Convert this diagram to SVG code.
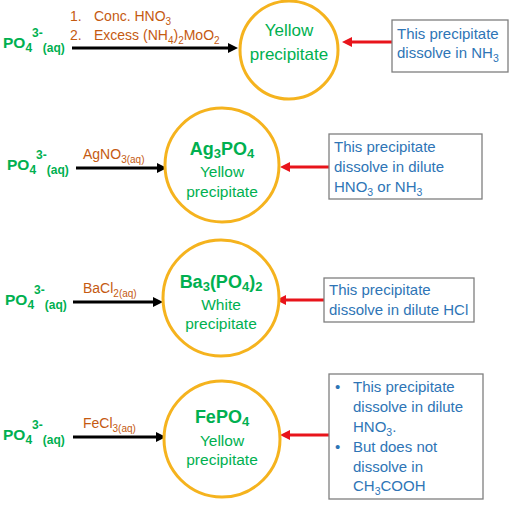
<svg xmlns="http://www.w3.org/2000/svg" width="517" height="505" viewBox="0 0 517 505">
<defs>
<marker id="ahBlack" markerUnits="userSpaceOnUse" markerWidth="12" markerHeight="12" refX="1" refY="5" orient="auto"><path d="M0,0 L10,5 L0,10 Z" fill="#000"/></marker>
<marker id="ahRed" markerUnits="userSpaceOnUse" markerWidth="12" markerHeight="12" refX="1" refY="5" orient="auto"><path d="M0,0 L10,5 L0,10 Z" fill="#E8141B"/></marker>
</defs>
<style>
text{font-family:"Liberation Sans",Arial,sans-serif}
.ion{fill:#00B050;font-weight:bold;font-size:15.5px}
.ion .s{font-size:12px}
.reag{fill:#C55A11;font-size:14px}
.reag .s{font-size:10px}
.node circle{fill:#fff;stroke:#F5B31E;stroke-width:3}
.ct{fill:#00B050;font-size:15.5px;text-anchor:middle}
.cf{fill:#00B050;font-size:18px;font-weight:bold;text-anchor:middle}
.cf .s{font-size:13px}
.box rect{fill:#fff;stroke:#7F7F7F;stroke-width:1.3}
.bt{fill:#2E75B6;font-size:15px}
.bt .s{font-size:10.5px}
.blk{stroke:#000;stroke-width:3;marker-end:url(#ahBlack)}
.red{stroke:#E8141B;stroke-width:3;marker-end:url(#ahRed)}
</style>
<rect width="517" height="505" fill="#fff"/>

<g id="connectors">
<line class="blk" x1="72" y1="48" x2="229" y2="48"/>
<line class="blk" x1="76" y1="168" x2="158" y2="168"/>
<line class="blk" x1="73" y1="302" x2="154" y2="302"/>
<line class="blk" x1="73" y1="437" x2="157" y2="437"/>
<line class="red" x1="392" y1="42" x2="351" y2="42"/>
<line class="red" x1="329" y1="167" x2="289" y2="167"/>
<line class="red" x1="324" y1="300" x2="285" y2="300"/>
<line class="red" x1="329" y1="435" x2="289" y2="435"/>
</g>

<g id="ion1"><text class="ion" x="3" y="48">PO<tspan class="s" dy="4">4</tspan><tspan class="s" dy="-15">3-</tspan><tspan class="s" dy="15">(aq)</tspan></text></g>
<g id="ion2"><text class="ion" x="7" y="170">PO<tspan class="s" dy="4">4</tspan><tspan class="s" dy="-15">3-</tspan><tspan class="s" dy="15">(aq)</tspan></text></g>
<g id="ion3"><text class="ion" x="5" y="305">PO<tspan class="s" dy="4">4</tspan><tspan class="s" dy="-15">3-</tspan><tspan class="s" dy="15">(aq)</tspan></text></g>
<g id="ion4"><text class="ion" x="3" y="440">PO<tspan class="s" dy="4">4</tspan><tspan class="s" dy="-15">3-</tspan><tspan class="s" dy="15">(aq)</tspan></text></g>

<g id="reagent1">
<text class="reag" x="70" y="21">1.</text>
<text class="reag" x="94" y="21">Conc. HNO<tspan class="s" dy="4">3</tspan></text>
<text class="reag" x="70" y="40">2.</text>
<text class="reag" x="94" y="40">Excess (NH<tspan class="s" dy="4">4</tspan><tspan dy="-4">)</tspan><tspan class="s" dy="4">2</tspan><tspan dy="-4">MoO</tspan><tspan class="s" dy="4">2</tspan></text>
</g>
<g id="reagent2"><text class="reag" x="83" y="159">AgNO<tspan class="s" dy="4">3(aq)</tspan></text></g>
<g id="reagent3"><text class="reag" x="83" y="293">BaCl<tspan class="s" dy="4">2(aq)</tspan></text></g>
<g id="reagent4"><text class="reag" x="83" y="428">FeCl<tspan class="s" dy="4">3(aq)</tspan></text></g>

<g id="precip1" class="node">
<circle cx="289" cy="50" r="49"/>
<text class="ct" x="289" y="36" style="font-size:17px">Yellow</text>
<text class="ct" x="289" y="60" style="font-size:17px">precipitate</text>
</g>
<g id="precip2" class="node">
<circle cx="222" cy="165" r="57"/>
<text class="cf" x="222" y="155">Ag<tspan class="s" dy="3">3</tspan><tspan dy="-3">PO</tspan><tspan class="s" dy="3">4</tspan></text>
<text class="ct" x="222" y="177">Yellow</text>
<text class="ct" x="222" y="197">precipitate</text>
</g>
<g id="precip3" class="node">
<circle cx="221" cy="298" r="58"/>
<text class="cf" x="221" y="288">Ba<tspan class="s" dy="3">3</tspan><tspan dy="-3">(PO</tspan><tspan class="s" dy="3">4</tspan><tspan dy="-3">)</tspan><tspan class="s" dy="3">2</tspan></text>
<text class="ct" x="221" y="310">White</text>
<text class="ct" x="221" y="329">precipitate</text>
</g>
<g id="precip4" class="node">
<circle cx="222" cy="439" r="58"/>
<text class="cf" x="222" y="423">FePO<tspan class="s" dy="3">4</tspan></text>
<text class="ct" x="222" y="446">Yellow</text>
<text class="ct" x="222" y="465">precipitate</text>
</g>

<g id="note1" class="box">
<rect x="392" y="20" width="116" height="52"/>
<text class="bt" x="397" y="39">This precipitate</text>
<text class="bt" x="397" y="58">dissolve in NH<tspan class="s" dy="4">3</tspan></text>
</g>
<g id="note2" class="box">
<rect x="329" y="134" width="153" height="65"/>
<text class="bt" x="334" y="152">This precipitate</text>
<text class="bt" x="334" y="172">dissolve in dilute</text>
<text class="bt" x="334" y="192">HNO<tspan class="s" dy="4">3</tspan><tspan dy="-4"> or NH</tspan><tspan class="s" dy="4">3</tspan></text>
</g>
<g id="note3" class="box">
<rect x="324" y="278" width="150" height="44"/>
<text class="bt" x="329" y="295">This precipitate</text>
<text class="bt" x="329" y="315">dissolve in dilute HCl</text>
</g>
<g id="note4" class="box">
<rect x="329" y="374" width="154" height="125"/>
<text class="bt" x="335" y="392">•</text>
<text class="bt" x="353" y="392">This precipitate</text>
<text class="bt" x="353" y="412">dissolve in dilute</text>
<text class="bt" x="353" y="432">HNO<tspan class="s" dy="4">3</tspan><tspan dy="-4">.</tspan></text>
<text class="bt" x="335" y="452">•</text>
<text class="bt" x="353" y="452">But does not</text>
<text class="bt" x="353" y="472">dissolve in</text>
<text class="bt" x="353" y="491">CH<tspan class="s" dy="4">3</tspan><tspan dy="-4">COOH</tspan></text>
</g>
</svg>
